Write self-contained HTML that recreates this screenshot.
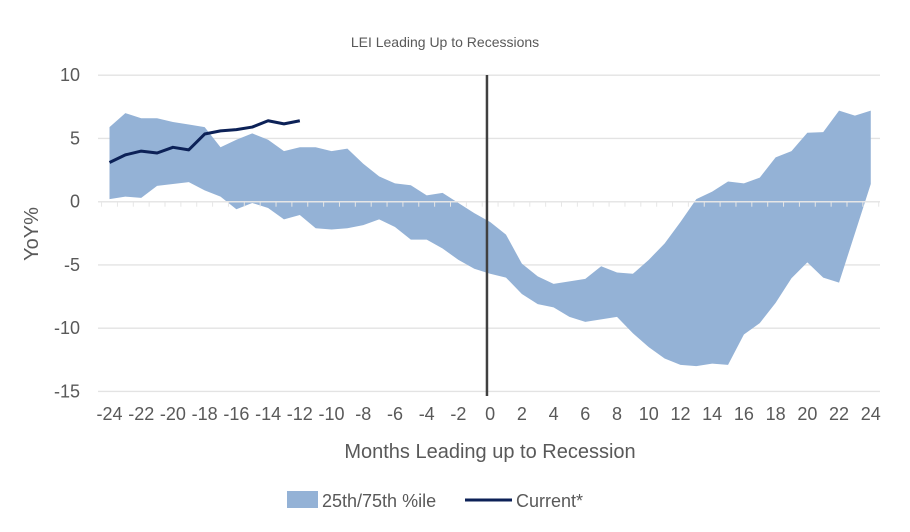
<!DOCTYPE html>
<html><head><meta charset="utf-8"><style>
body{margin:0;background:#fff;}
svg{display:block;font-family:"Liberation Sans",sans-serif;}
</style></head><body>
<svg id="chart" width="910" height="532" viewBox="0 0 910 532">
<text x="445" y="47" text-anchor="middle" font-size="14" fill="#595959">LEI Leading Up to Recessions</text>
<g id="grid"></g><g id="band"></g><g id="axis"></g><g id="line"></g><g id="labels"></g>
<text transform="translate(38,234) rotate(-90)" text-anchor="middle" font-size="20" fill="#595959">YoY%</text>
<text x="490" y="458" text-anchor="middle" font-size="20" fill="#595959">Months Leading up to Recession</text>
<g>
<rect x="287" y="491" width="31" height="17" fill="#94b2d6"/>
<text x="322" y="507" font-size="18" fill="#595959">25th/75th %ile</text>
<line x1="465" y1="500" x2="512" y2="500" stroke="#0c2157" stroke-width="3"/>
<text x="516" y="507" font-size="18" fill="#595959">Current*</text>
</g>
</svg>
<script>
const months=[];for(let m=-24;m<=24;m++)months.push(m);
const upper=[5.9,7.0,6.6,6.6,6.3,6.1,5.9,4.3,4.9,5.4,4.9,4.0,4.3,4.3,4.0,4.2,3.0,2.0,1.45,1.3,0.5,0.7,-0.1,-0.9,-1.6,-2.6,-4.9,-5.9,-6.5,-6.3,-6.1,-5.1,-5.6,-5.7,-4.6,-3.3,-1.6,0.2,0.8,1.6,1.45,1.9,3.5,4.0,5.45,5.5,7.2,6.8,7.2];
const lower=[0.2,0.4,0.3,1.25,1.4,1.55,0.9,0.4,-0.6,-0.1,-0.5,-1.4,-1.05,-2.1,-2.2,-2.1,-1.85,-1.4,-2.0,-3.0,-3.0,-3.7,-4.6,-5.3,-5.7,-6.0,-7.3,-8.1,-8.35,-9.1,-9.5,-9.3,-9.1,-10.4,-11.5,-12.4,-12.9,-13.0,-12.8,-12.9,-10.5,-9.6,-8.0,-6.05,-4.8,-6.0,-6.4,-2.5,1.4];
const currentMonths=[-24,-23,-22,-21,-20,-19,-18,-17,-16,-15,-14,-13,-12];
const current=[3.1,3.7,4.0,3.85,4.3,4.1,5.35,5.6,5.7,5.9,6.4,6.15,6.4];
const yTicks=[10,5,0,-5,-10,-15];
const xTickLabels=[-24,-22,-20,-18,-16,-14,-12,-10,-8,-6,-4,-2,0,2,4,6,8,10,12,14,16,18,20,22,24];
const NS="http://www.w3.org/2000/svg";
const x=m=>109.5+(m+24)*15.86;
const y=v=>201.7-v*12.65;
function mk(t,a,p){const e=document.createElementNS(NS,t);for(const k in a)e.setAttribute(k,a[k]);p.appendChild(e);return e;}
const G=id=>document.getElementById(id);
yTicks.forEach(v=>{
  if(v!==0){const l=mk('line',{x1:98,x2:880,y1:y(v),y2:y(v),stroke:'#e3e3e3','stroke-width':1.3},G('grid'));
  
  }
  const t=mk('text',{x:80,y:y(v)+6,'text-anchor':'end','font-size':18,fill:'#595959'},G('labels'));
  t.textContent=v;
  
  
});
let pts=months.map((m,i)=>x(m)+','+y(upper[i]));
for(let i=months.length-1;i>=0;i--)pts.push(x(months[i])+','+y(lower[i]));
const band=mk('polygon',{points:pts.join(' '),fill:'#94b2d6'},G('band'));


const ax=mk('line',{x1:98,x2:880,y1:y(0),y2:y(0),stroke:'#e6e6e6','stroke-width':1.5},G('axis'));


for(let m=-24;m<=25;m++){const tx=x(m)-7.93;
  const tk=mk('line',{x1:tx,x2:tx,y1:y(0),y2:y(0)+5,stroke:'#e6e6e6','stroke-width':1},G('axis'));
  
  }
const vl=mk('line',{x1:x(-0.2),x2:x(-0.2),y1:75,y2:396,stroke:'#404040','stroke-width':2.5},G('axis'));


const cl=mk('polyline',{points:currentMonths.map((m,i)=>x(m)+','+y(current[i])).join(' '),fill:'none',stroke:'#0c2157','stroke-width':3,'stroke-linejoin':'round'},G('line'));


xTickLabels.forEach(m=>{
  const t=mk('text',{x:x(m),y:420,'text-anchor':'middle','font-size':18,fill:'#595959'},G('labels'));
  t.textContent=m;
  
  
});
</script>
</body></html>
